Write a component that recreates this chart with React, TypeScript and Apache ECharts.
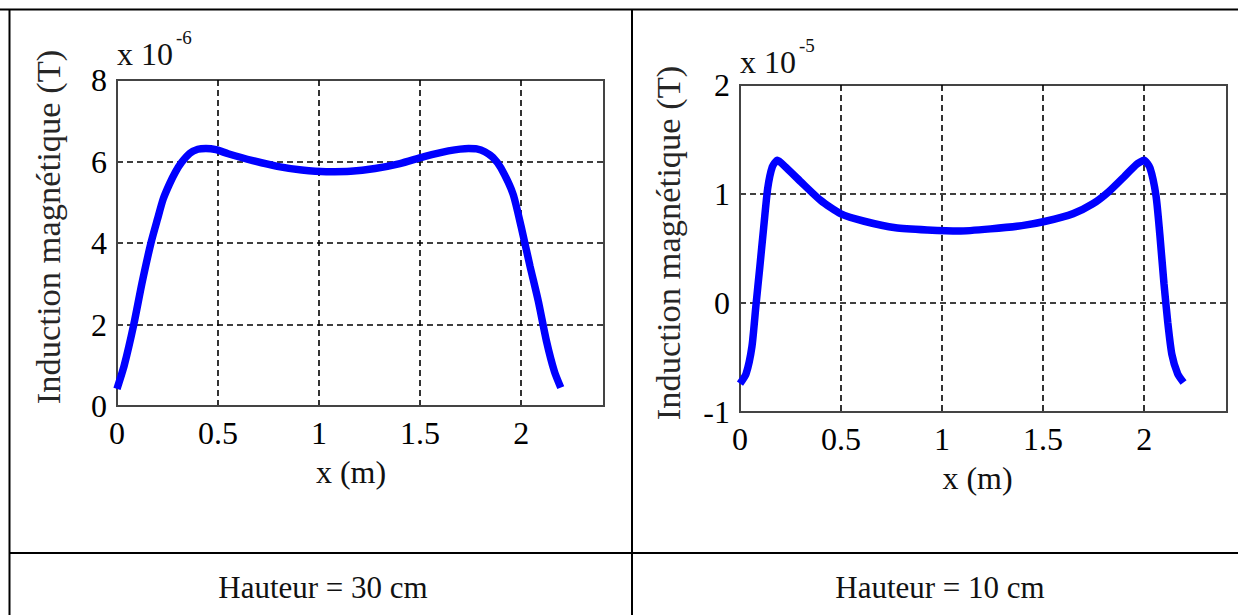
import React, { useEffect, useRef } from 'react';
import * as echarts from 'echarts';

// Hauteur = 30 cm (B in units of 1e-6 T)
const x30 = [0, 0.036, 0.083, 0.123, 0.168, 0.2, 0.228, 0.26, 0.289, 0.32, 0.36, 0.4, 0.44, 0.49, 0.55, 0.672, 0.793, 0.914, 1.035, 1.156, 1.277, 1.4, 1.52, 1.64, 1.74, 1.78, 1.82, 1.86, 1.9, 1.96, 2.0, 2.044, 2.085, 2.125, 2.165, 2.196];
const b30 = [0.42, 1.0, 2.0, 3.0, 4.0, 4.58, 5.07, 5.45, 5.74, 5.98, 6.2, 6.3, 6.32, 6.29, 6.19, 6.02, 5.88, 5.79, 5.75, 5.76, 5.83, 5.95, 6.12, 6.26, 6.32, 6.31, 6.24, 6.1, 5.84, 5.2, 4.4, 3.43, 2.57, 1.6, 0.84, 0.45];

// Hauteur = 10 cm (B in units of 1e-5 T)
const x10 = [0, 0.03, 0.059, 0.078, 0.098, 0.117, 0.137, 0.16, 0.185, 0.224, 0.302, 0.4, 0.497, 0.615, 0.77, 0.927, 1.083, 1.24, 1.395, 1.512, 1.649, 1.746, 1.824, 1.902, 1.961, 2.0, 2.029, 2.059, 2.078, 2.098, 2.117, 2.137, 2.166, 2.195];
const b10 = [-0.74, -0.65, -0.4, -0.04, 0.33, 0.69, 1.05, 1.25, 1.31, 1.25, 1.11, 0.94, 0.82, 0.75, 0.69, 0.67, 0.66, 0.68, 0.71, 0.75, 0.82, 0.91, 1.02, 1.16, 1.27, 1.31, 1.24, 0.98, 0.62, 0.18, -0.18, -0.47, -0.65, -0.73];

const captions = ['Hauteur = 30 cm', 'Hauteur = 10 cm'];
const yTitle = 'Induction magnétique (T)';
const xTitle = 'x (m)';
const exponents = ['-6', '-5'];

const FONT = '"Liberation Serif", "Times New Roman", serif';

export default function App() {
  const ref = useRef<HTMLDivElement>(null);
  useEffect(() => {
    if (!ref.current) return;
    const chart = echarts.init(ref.current, undefined, { renderer: 'svg' });
    const splitLine = {
      show: true,
      showMinLine: false,
      showMaxLine: false,
      lineStyle: { color: '#000', width: 1.6, type: [6, 4] },
    };
    const axisLine = { show: true, onZero: false, lineStyle: { color: '#444', width: 2 } };
    const labelStyle = { color: '#000', fontFamily: FONT, fontSize: 32 };
    const xAxisBase = (gridIndex: number, padRight: number) => ({
      type: 'value',
      gridIndex,
      min: 0,
      max: 2.41,
      interval: 0.5,
      name: xTitle,
      nameLocation: 'middle',
      nameGap: 50,
      nameTextStyle: { color: '#111', fontFamily: FONT, fontSize: 32, padding: [0, padRight, 0, 0] },
      axisLine,
      axisTick: { show: false },
      axisLabel: { ...labelStyle, margin: 11, showMaxLabel: false },
      splitLine,
    });
    const yAxisBase = (gridIndex: number, min: number, max: number, interval: number, gap: number, padLeft: number) => ({
      type: 'value',
      gridIndex,
      min,
      max,
      interval,
      name: yTitle,
      nameLocation: 'middle',
      nameGap: gap,
      nameTextStyle: { color: '#262626', fontFamily: FONT, fontSize: 34.5, padding: [0, 0, 0, padLeft] },
      axisLine,
      axisTick: { show: false },
      axisLabel: { ...labelStyle, margin: 10 },
      splitLine,
    });
    const gridStyle = { show: true, borderColor: '#444', borderWidth: 2, backgroundColor: '#fff' };
    const lineG = (x1: number, y1: number, x2: number, y2: number) => ({
      type: 'line',
      shape: { x1, y1, x2, y2 },
      style: { stroke: '#000', lineWidth: 2 },
      z: 100,
    });
    const txt = (x: number, y: number, text: string, size: number, align = 'left') => ({
      type: 'text',
      x,
      y,
      style: { text, fill: '#111', font: `${size}px ${FONT}`, textAlign: align, textVerticalAlign: 'middle' },
    });
    chart.setOption({
      animation: false,
      backgroundColor: '#fff',
      grid: [
        { left: 117, top: 80, width: 487, height: 326, ...gridStyle },
        { left: 740, top: 85, width: 487, height: 327, ...gridStyle },
      ],
      xAxis: [xAxisBase(0, 19), xAxisBase(1, 12)],
      yAxis: [yAxisBase(0, 0, 8, 2, 52, 32), yAxisBase(1, -1, 2, 1, 55, 11)],
      series: [
        {
          type: 'line',
          xAxisIndex: 0,
          yAxisIndex: 0,
          data: x30.map((x, i) => [x, b30[i]]),
          showSymbol: false,
          smooth: 0.2,
          lineStyle: { color: '#0000ff', width: 7.5 },
        },
        {
          type: 'line',
          xAxisIndex: 1,
          yAxisIndex: 1,
          data: x10.map((x, i) => [x, b10[i]]),
          showSymbol: false,
          smooth: 0.2,
          lineStyle: { color: '#0000ff', width: 7.5 },
        },
      ],
      graphic: [
        lineG(0, 9.5, 1238, 9.5),
        lineG(9.5, 9, 9.5, 615),
        lineG(632, 9, 632, 615),
        lineG(9, 553, 1238, 553),
        txt(117, 54, 'x 10', 32),
        txt(176, 37, exponents[0], 19),
        txt(740, 62, 'x 10', 32),
        txt(799, 45, exponents[1], 19),
        txt(323, 587.5, captions[0], 31, 'center'),
        txt(940, 587.5, captions[1], 31, 'center'),
      ],
    });
    return () => chart.dispose();
  }, []);
  return (
    <div
      ref={ref}
      style={{ position: 'fixed', left: 0, top: 0, width: 1238, height: 615, background: '#fff' }}
    />
  );
}
